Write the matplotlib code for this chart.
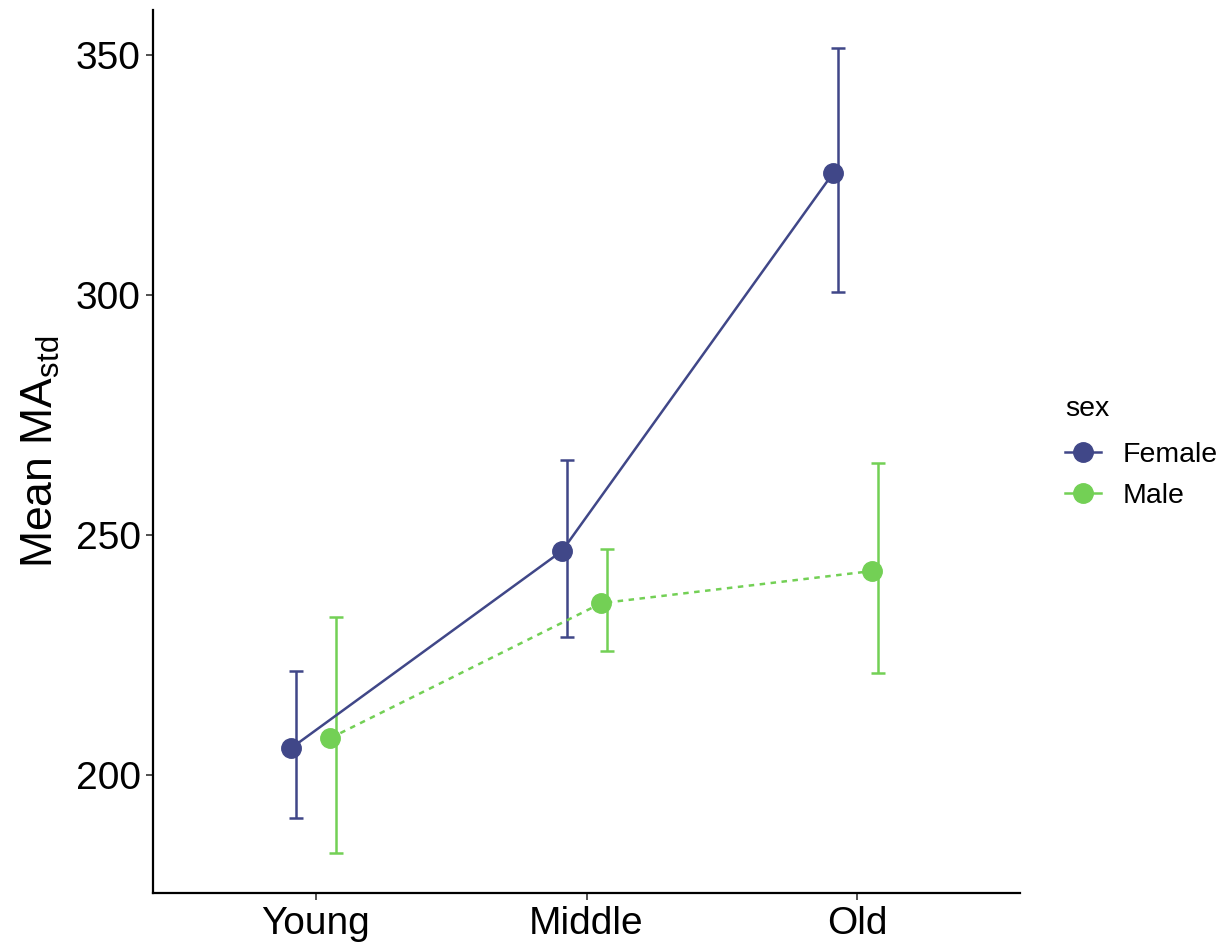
import matplotlib.pyplot as plt
from matplotlib.lines import Line2D

plt.rcParams["font.family"] = ["Liberation Sans", "DejaVu Sans"]
plt.rcParams["mathtext.fontset"] = "custom"
plt.rcParams["mathtext.rm"] = "Liberation Sans"

ages = ["Young", "Middle", "Old"]
groups = ["Female", "Male"]
female_mean = [205.6, 246.7, 325.4]
female_lo = [191.0, 228.7, 300.6]
female_hi = [221.7, 265.6, 351.4]
male_mean = [207.7, 235.8, 242.5]
male_lo = [183.8, 225.8, 221.3]
male_hi = [232.9, 247.1, 265.0]

colors = {"Female": "#404788", "Male": "#73D055"}
styles = {"Female": "-", "Male": (0, (2.2, 2.2))}
pt_dodge = {"Female": -0.09, "Male": 0.055}
eb_dodge = {"Female": -0.072, "Male": 0.074}

fig = plt.figure(figsize=(12.3, 9.49), dpi=100)
ax = fig.add_axes([0.1244, 0.059, 0.7049, 0.9305])

data = {
    "Female": (female_mean, female_lo, female_hi),
    "Male": (male_mean, male_lo, male_hi),
}
x = [1, 2, 3]
for g in groups:
    m, lo, hi = data[g]
    c = colors[g]
    xe = [i + eb_dodge[g] for i in x]
    xp = [i + pt_dodge[g] for i in x]
    ax.errorbar(xe, m, yerr=[[a - b for a, b in zip(m, lo)], [b - a for a, b in zip(m, hi)]],
                fmt="none", ecolor=c, elinewidth=1.8, capsize=5, capthick=1.8, zorder=2)
    ax.plot(xp, m, color=c, linestyle=styles[g], linewidth=1.8, zorder=3)
    ax.plot(xp, m, "o", color=c, markersize=14, zorder=4)

ax.set_xlim(0.4, 3.6)
ax.set_ylim(175.4, 359.4)
ax.set_xticks(x)
ax.set_xticklabels(ages)
ax.set_yticks([200, 250, 300, 350])
ax.tick_params(axis="both", labelsize=28, length=5, width=1.2, color="#333333", pad=4)
ax.set_ylabel(r"Mean MA$_{\mathrm{std}}$", fontsize=32, labelpad=10)
for s in ["top", "right"]:
    ax.spines[s].set_visible(False)
for s in ["left", "bottom"]:
    ax.spines[s].set_linewidth(1.6)

handles = [Line2D([], [], color=colors[g], linewidth=1.8, marker="o", markersize=14) for g in groups]
leg = fig.legend(handles, groups, title="sex", loc="center left", bbox_to_anchor=(0.857, 0.523),
                 frameon=False, fontsize=20.5, title_fontsize=20.5, handlelength=1.25,
                 handletextpad=0.75, labelspacing=0.55, borderaxespad=0)
leg._legend_box.align = "left"
leg._legend_box.sep = 14

fig.savefig("out.png", dpi=100)
